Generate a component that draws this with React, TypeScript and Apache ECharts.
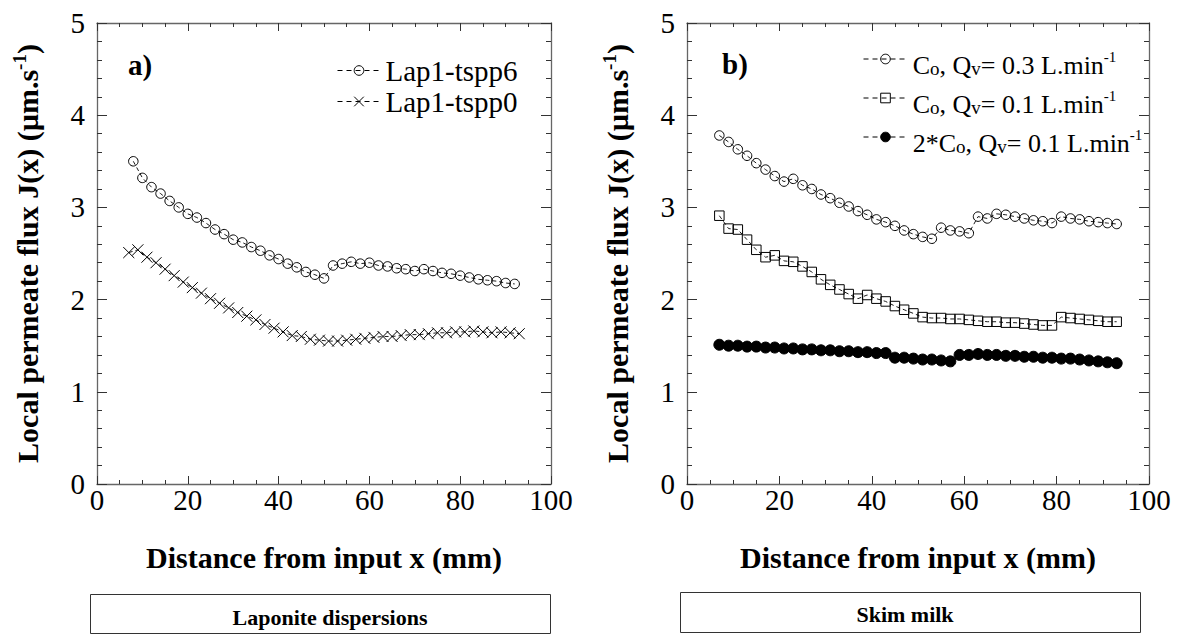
import React, { useEffect, useRef } from "react";
import * as echarts from "echarts";

const FONT = "Liberation Serif, Times New Roman, Times, serif";

// ---- Panel a) Laponite dispersions ----
const lap6X = [8, 10, 12, 14, 16, 18, 20, 22, 24, 26, 28, 30, 32, 34, 36, 38, 40, 42, 44, 46, 48, 50,
  52, 54, 56, 58, 60, 62, 64, 66, 68, 70, 72, 74, 76, 78, 80, 82, 84, 86, 88, 90, 92];
const lap6Y = [3.50, 3.32, 3.22, 3.15, 3.07, 3.00, 2.93, 2.89, 2.83, 2.76, 2.71, 2.65, 2.62, 2.57, 2.53, 2.48, 2.44, 2.39, 2.35, 2.30, 2.27, 2.23,
  2.37, 2.39, 2.41, 2.39, 2.40, 2.37, 2.36, 2.34, 2.33, 2.31, 2.33, 2.31, 2.29, 2.28, 2.26, 2.24, 2.22, 2.21, 2.20, 2.18, 2.17];

const lap0X = [7, 9, 11, 13, 15, 17, 19, 21, 23, 25, 27, 29, 31, 33, 35, 37, 39, 41, 43, 45, 47, 49,
  51, 53, 55, 57, 59, 61, 63, 65, 67, 69, 71, 73, 75, 77, 79, 81, 83, 85, 87, 89, 91, 93];
const lap0Y = [2.51, 2.54, 2.46, 2.40, 2.33, 2.26, 2.19, 2.13, 2.07, 2.01, 1.96, 1.91, 1.86, 1.82, 1.78, 1.73, 1.69, 1.65, 1.61, 1.60, 1.57, 1.56,
  1.55, 1.55, 1.56, 1.57, 1.58, 1.59, 1.60, 1.60, 1.61, 1.62, 1.62, 1.63, 1.64, 1.64, 1.65, 1.65, 1.66, 1.65, 1.64, 1.65, 1.64, 1.63];

// ---- Panel b) Skim milk ----
const milkX = [7, 9, 11, 13, 15, 17, 19, 21, 23, 25, 27, 29, 31, 33, 35, 37, 39, 41, 43, 45, 47, 49,
  51, 53, 55, 57, 59, 61, 63, 65, 67, 69, 71, 73, 75, 77, 79, 81, 83, 85, 87, 89, 91, 93];
const co03Y = [3.78, 3.71, 3.63, 3.56, 3.48, 3.41, 3.34, 3.28, 3.31, 3.24,
  3.20, 3.14, 3.10, 3.05, 3.01, 2.96, 2.92, 2.87, 2.84, 2.80,
  2.75, 2.71, 2.68, 2.66, 2.78, 2.75, 2.74, 2.72, 2.90, 2.88,
  2.93, 2.92, 2.90, 2.88, 2.86, 2.85, 2.83, 2.90, 2.88, 2.87,
  2.85, 2.84, 2.83, 2.82];
const co01Y = [2.91, 2.77, 2.76, 2.65, 2.54, 2.46, 2.48, 2.42, 2.41, 2.36,
  2.30, 2.22, 2.16, 2.11, 2.06, 2.01, 2.05, 2.01, 1.98, 1.93,
  1.89, 1.85, 1.81, 1.80, 1.80, 1.79, 1.79, 1.78, 1.77, 1.76,
  1.76, 1.75, 1.75, 1.74, 1.73, 1.72, 1.72, 1.81, 1.80, 1.79,
  1.78, 1.77, 1.76, 1.76];
const co2Y = [1.51, 1.50, 1.50, 1.49, 1.49, 1.48, 1.48, 1.47, 1.47, 1.46,
  1.46, 1.45, 1.45, 1.44, 1.44, 1.43, 1.43, 1.42, 1.42, 1.37,
  1.37, 1.36, 1.35, 1.35, 1.34, 1.33, 1.40, 1.40, 1.41, 1.40,
  1.40, 1.39, 1.39, 1.38, 1.38, 1.37, 1.37, 1.36, 1.36, 1.35,
  1.34, 1.33, 1.32, 1.31];

const xTicks = { min: 0, max: 100, interval: 20 };
const yTicks = { min: 0, max: 5, interval: 1 };

const NAME_LAP6 = "Lap1-tspp6";
const NAME_LAP0 = "Lap1-tspp0";
const NAME_CO03 = "Co, Qv= 0.3 L.min-1";
const NAME_CO01 = "Co, Qv= 0.1 L.min-1";
const NAME_2CO = "2*Co, Qv= 0.1 L.min-1";

const RICH_LEGEND: Record<string, string> = {
  [NAME_CO03]: "{g| }{n|C}{s|o}{n|, Q}{s|v}{n|= 0.3 L.min}{p|-1}",
  [NAME_CO01]: "{g| }{n|C}{s|o}{n|, Q}{s|v}{n|= 0.1 L.min}{p|-1}",
  [NAME_2CO]: "{g| }{n|2*C}{s|o}{n|, Q}{s|v}{n|= 0.1 L.min}{p|-1}",
};

const X_NAME = "Distance from input x (mm)";
const Y_NAME = "{b|Local permeate flux J(x) (µm.s}{p|-1}{b|)}";

const CROSS = "path://M0,0L10,10M10,0L0,10";

const AXIS_COLOR = "#666";
const TICK_COLOR = "#333";

function xAxis(gridIndex: number, position: "bottom" | "top", main: boolean) {
  return {
    type: "value",
    gridIndex,
    position,
    ...xTicks,
    axisLine: { show: true, onZero: false, lineStyle: { color: AXIS_COLOR, width: 1.3 } },
    axisTick: { show: true, inside: true, length: 8, lineStyle: { color: TICK_COLOR, width: 1 } },
    minorTick: { show: true, splitNumber: 4, length: 4, lineStyle: { color: TICK_COLOR, width: 1 } },
    splitLine: { show: false },
    axisLabel: main
      ? { show: true, margin: 1, fontFamily: FONT, fontSize: 29, color: "#000" }
      : { show: false },
    name: main ? X_NAME : "",
    nameLocation: "middle",
    nameGap: 58,
    nameTextStyle: { fontFamily: FONT, fontWeight: "bold", fontSize: 30, color: "#000" },
  };
}

function yAxis(gridIndex: number, position: "left" | "right", main: boolean) {
  return {
    type: "value",
    gridIndex,
    position,
    ...yTicks,
    axisLine: { show: true, onZero: false, lineStyle: { color: AXIS_COLOR, width: 1.3 } },
    axisTick: { show: true, inside: true, length: 10, lineStyle: { color: TICK_COLOR, width: 1 } },
    minorTick: { show: true, splitNumber: 5, length: 5, lineStyle: { color: TICK_COLOR, width: 1 } },
    splitLine: { show: false },
    axisLabel: main
      ? { show: true, margin: 12, fontFamily: FONT, fontSize: 29, color: "#000" }
      : { show: false },
    name: main ? Y_NAME : "",
    nameLocation: "middle",
    nameGap: 53,
    nameTextStyle: {
      color: "#000",
      fontFamily: FONT,
      rich: {
        b: { fontFamily: FONT, fontWeight: "bold", fontSize: 30, lineHeight: 34, color: "#000" },
        p: { fontFamily: FONT, fontWeight: "bold", fontSize: 19, lineHeight: 18, verticalAlign: "top", color: "#000" },
      },
    },
  };
}

const dashLine = { color: "#000", width: 0.9, type: [4, 3] as number[] };
const legendLine = { color: "#000", width: 1, type: [5, 4] as number[] };

function pairs(xs: number[], ys: number[]) {
  return xs.map((x, i) => [x, ys[i]]);
}

export default function App() {
  const ref = useRef<HTMLDivElement>(null);
  useEffect(() => {
    if (!ref.current) return;
    const chart = echarts.init(ref.current, null, { renderer: "svg" });
    const option: any = {
      animation: false,
      backgroundColor: "#fff",
      textStyle: { fontFamily: FONT },
      grid: [
        { left: 97, top: 23, width: 454, height: 461, containLabel: false },
        { left: 687, top: 23, width: 462, height: 461, containLabel: false },
      ],
      xAxis: [xAxis(0, "bottom", true), xAxis(0, "top", false), xAxis(1, "bottom", true), xAxis(1, "top", false)],
      yAxis: [yAxis(0, "left", true), yAxis(0, "right", false), yAxis(1, "left", true), yAxis(1, "right", false)],
      legend: [
        {
          data: [NAME_LAP6, NAME_LAP0],
          orient: "vertical",
          left: 337,
          top: 55,
          padding: 0,
          itemWidth: 43,
          itemHeight: 12,
          itemGap: 0,
          selectedMode: false,
          itemStyle: { borderWidth: 1 },
          lineStyle: legendLine,
          textStyle: { fontFamily: FONT, fontSize: 29, lineHeight: 31, color: "#000" },
        },
        {
          data: [NAME_CO03, NAME_CO01, NAME_2CO],
          orient: "vertical",
          left: 863,
          top: 40,
          padding: 0,
          itemWidth: 44,
          itemHeight: 12,
          itemGap: 1,
          selectedMode: false,
          itemStyle: { borderWidth: 1 },
          lineStyle: legendLine,
          formatter: (name: string) => RICH_LEGEND[name] || name,
          textStyle: {
            fontFamily: FONT,
            fontSize: 26,
            color: "#000",
            rich: {
              g: { fontFamily: FONT, fontSize: 1, lineHeight: 38, color: "#000" },
              n: { fontFamily: FONT, fontSize: 26, lineHeight: 28, verticalAlign: "bottom", color: "#000" },
              s: { fontFamily: FONT, fontSize: 19, lineHeight: 22, verticalAlign: "bottom", color: "#000" },
              p: { fontFamily: FONT, fontSize: 15, lineHeight: 15, verticalAlign: "top", padding: [9, 0, 0, 0], color: "#000" },
            },
          },
        },
      ],
      series: [
        {
          name: NAME_LAP6,
          type: "line",
          xAxisIndex: 0,
          yAxisIndex: 0,
          data: pairs(lap6X, lap6Y),
          symbol: "circle",
          symbolSize: 9.5,
          showAllSymbol: true,
          lineStyle: dashLine,
          itemStyle: { color: "rgba(0,0,0,0)", borderColor: "#000", borderWidth: 1 },
        },
        {
          name: NAME_LAP0,
          type: "line",
          xAxisIndex: 0,
          yAxisIndex: 0,
          data: pairs(lap0X, lap0Y),
          symbol: CROSS,
          symbolSize: 11,
          showAllSymbol: true,
          lineStyle: dashLine,
          itemStyle: { color: "rgba(0,0,0,0)", borderColor: "#000", borderWidth: 1 },
        },
        {
          name: NAME_CO03,
          type: "line",
          xAxisIndex: 2,
          yAxisIndex: 2,
          data: pairs(milkX, co03Y),
          symbol: "circle",
          symbolSize: 9.5,
          showAllSymbol: true,
          lineStyle: dashLine,
          itemStyle: { color: "rgba(0,0,0,0)", borderColor: "#000", borderWidth: 1 },
        },
        {
          name: NAME_CO01,
          type: "line",
          xAxisIndex: 2,
          yAxisIndex: 2,
          data: pairs(milkX, co01Y),
          symbol: "rect",
          symbolSize: 9.5,
          showAllSymbol: true,
          lineStyle: dashLine,
          itemStyle: { color: "rgba(0,0,0,0)", borderColor: "#000", borderWidth: 1 },
        },
        {
          name: NAME_2CO,
          type: "line",
          xAxisIndex: 2,
          yAxisIndex: 2,
          data: pairs(milkX, co2Y),
          symbol: "circle",
          symbolSize: 11,
          showAllSymbol: true,
          lineStyle: dashLine,
          itemStyle: { color: "#000", borderColor: "#000", borderWidth: 1 },
        },
      ],
      graphic: [
        {
          type: "text",
          left: 128,
          top: 50,
          style: { text: "a)", fontFamily: FONT, fontWeight: "bold", fontSize: 29, fill: "#000" },
        },
        {
          type: "text",
          left: 722,
          top: 49,
          style: { text: "b)", fontFamily: FONT, fontWeight: "bold", fontSize: 29, fill: "#000" },
        },
        {
          type: "rect",
          shape: { x: 90.5, y: 594.5, width: 460, height: 39 },
          style: { fill: "#fff", stroke: "#333", lineWidth: 1 },
        },
        {
          type: "text",
          x: 330,
          y: 617,
          style: {
            text: "Laponite dispersions",
            fontFamily: FONT,
            fontWeight: "bold",
            fontSize: 22,
            fill: "#000",
            align: "center",
            verticalAlign: "middle",
          },
        },
        {
          type: "rect",
          shape: { x: 680.5, y: 592.5, width: 460, height: 40 },
          style: { fill: "#fff", stroke: "#333", lineWidth: 1 },
        },
        {
          type: "text",
          x: 905,
          y: 614,
          style: {
            text: "Skim milk",
            fontFamily: FONT,
            fontWeight: "bold",
            fontSize: 22,
            fill: "#000",
            align: "center",
            verticalAlign: "middle",
          },
        },
      ],
    };
    chart.setOption(option);
    return () => chart.dispose();
  }, []);
  return (
    <div
      ref={ref}
      style={{ position: "fixed", left: 0, top: 0, width: 1179, height: 635, background: "#fff" }}
    />
  );
}
